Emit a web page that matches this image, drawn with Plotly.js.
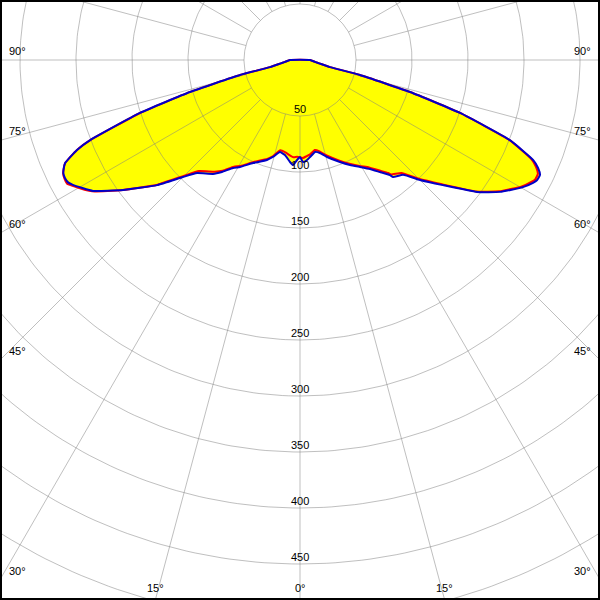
<!DOCTYPE html>
<html><head><meta charset="utf-8">
<script src="https://cdn.plot.ly/plotly-3.0.1.min.js"></script>
<style>html,body{margin:0;padding:0;background:#fff;overflow:hidden}#chart{width:600px;height:600px}</style>
</head><body><div id="chart"></div>
<script>
// gamma angle (deg, 0 = nadir, negative = left side)
const gammaAngles = [-90,-83,-79.8,-76.7,-76,-73.8,-71.7,-69.1,-68,-66.3,-65.2,-64.4,-63.3,-62.1,-61.2,-57.7,-53.7,-48.8,-45,-42.3,-37.4,-34.9,-31.8,-29.3,-24.5,-18.3,-15.6,-12.3,-9,-5.6,-3.8,-1.7,0,1.7,4,5.9,9.3,12.1,15.6,21.4,25.5,29.3,32.7,35.5,38,38.5,41.9,45,48.8,53.3,56.6,60.3,62.2,63.1,64.4,65.6,66.8,69.1,71.7,73.8,76,76.7,79.8,83,90];
// luminous intensity, plane C0-C180 (blue)
const intensityC0 = [9,13.5,18,27.5,55.2,102.3,150.5,200.6,215,229,232.5,234.3,234.8,234,231.4,218.7,196.1,169.6,147.7,136.5,128,121.9,113.5,109.5,101.1,94,89.9,84.1,85.9,91.5,94,89.3,86.6,91.1,89.5,87.1,83.2,84.9,89.9,97.8,103.8,109.5,115.7,122.9,130.4,133.5,137.8,151.5,169.6,197.1,213.9,229.1,235.2,237.2,237.6,233.4,226.4,200.6,150.5,102.3,55.2,27.5,18,13.5,9];
// luminous intensity, plane C90-C270 (red)
const intensityC90 = [9,13.5,18,27.5,55,102,150,200,215,229,232.5,234.5,235.5,235.5,232.5,219.5,196,169,146,134,125.5,120.5,112,108.5,100,93,89,82.5,83.5,86,87,86.5,87,87.5,86,85,81.5,83.5,88.5,96.5,102.5,108.5,114,121,128,130.5,135.5,150,168.5,196.5,213,228,233.5,235.5,235.5,231.5,225,200,150.5,102.3,55.2,27.5,18,13.5,9];

const ringValues = [50,100,150,200,250,300,350,400,450,500,550,600];
const ringLabels = [50,100,150,200,250,300,350,400,450];
const spokeAngles = [0,15,30,45,60,75,90,105,120,135,150,165,180,195,210,225,240,255,270,285,300,315,330,345];
const sideAngleLabels = [90,75,60,45,30];
const bottomAngleLabels = [-15,0,15];

const K = 1.12, CX = 300, CY = 60, W = 600, H = 600;
const rad = d => d * Math.PI / 180;

function toXY(angles, values, close) {
  const x = [], y = [];
  angles.forEach((a, i) => { x.push(values[i] * Math.sin(rad(a))); y.push(-values[i] * Math.cos(rad(a))); });
  if (close) { x.push(x[0]); y.push(y[0]); }
  return {x, y};
}

const gx = [], gy = [];
ringValues.forEach(r => {
  for (let d = 0; d <= 360; d += 1) { gx.push(r * Math.sin(rad(d))); gy.push(-r * Math.cos(rad(d))); }
  gx.push(null); gy.push(null);
});
spokeAngles.forEach(a => {
  gx.push(50 * Math.sin(rad(a)), 700 * Math.sin(rad(a)), null);
  gy.push(-50 * Math.cos(rad(a)), -700 * Math.cos(rad(a)), null);
});

const c0 = toXY(gammaAngles, intensityC0, true);
const c90 = toXY(gammaAngles, intensityC90, true);

const traces = [
  {x: c0.x, y: c0.y, mode: 'lines', fill: 'toself', fillcolor: '#ffff00', line: {width: 0, color: '#ffff00', shape: 'spline', smoothing: 0.4}, hoverinfo: 'skip'},
  {x: gx, y: gy, mode: 'lines', line: {color: 'rgba(128,128,128,0.5)', width: 1}, hoverinfo: 'skip', connectgaps: false},
  {x: c90.x, y: c90.y, mode: 'lines', line: {color: '#ff0000', width: 2, shape: 'spline', smoothing: 0.4}, hoverinfo: 'skip'},
  {x: c0.x, y: c0.y, mode: 'lines', line: {color: '#0000c8', width: 2, shape: 'spline', smoothing: 0.4}, hoverinfo: 'skip'}
];

const font = {family: 'Liberation Sans, Arial, sans-serif', size: 11, color: '#000'};
const annotations = [];
ringLabels.forEach(v => annotations.push({x: 0, y: -v, xref: 'x', yref: 'y', text: String(v), showarrow: false, xanchor: 'center', yanchor: 'bottom', yshift: -1, font}));
sideAngleLabels.forEach(a => {
  const yv = a === 90 ? 0 : -(CX / K) / Math.tan(rad(a));
  annotations.push({x: 0, y: yv, xref: 'paper', yref: 'y', text: a + '°', showarrow: false, xanchor: 'left', yanchor: 'bottom', xshift: 7, yshift: 1, font});
  annotations.push({x: 1, y: yv, xref: 'paper', yref: 'y', text: a + '°', showarrow: false, xanchor: 'right', yanchor: 'bottom', xshift: -7, yshift: 1, font});
});
bottomAngleLabels.forEach(a => {
  annotations.push({x: ((H - CY) / K) * Math.tan(rad(a)), y: 0, xref: 'x', yref: 'paper', text: Math.abs(a) + '°', showarrow: false, xanchor: 'center', yanchor: 'bottom', yshift: 4, font});
});

const layout = {
  width: W, height: H,
  margin: {l: 0, r: 0, t: 0, b: 0},
  paper_bgcolor: '#fff', plot_bgcolor: '#fff',
  showlegend: false,
  xaxis: {range: [-CX / K, (W - CX) / K], visible: false, fixedrange: true},
  yaxis: {range: [-(H - CY) / K, CY / K], visible: false, fixedrange: true},
  annotations,
  shapes: [{type: 'rect', xref: 'paper', yref: 'paper', x0: 0, x1: 1, y0: 0, y1: 1, line: {color: '#000', width: 4}, layer: 'above'}]
};

Plotly.newPlot('chart', traces, layout, {displayModeBar: false, staticPlot: true});
</script></body></html>
